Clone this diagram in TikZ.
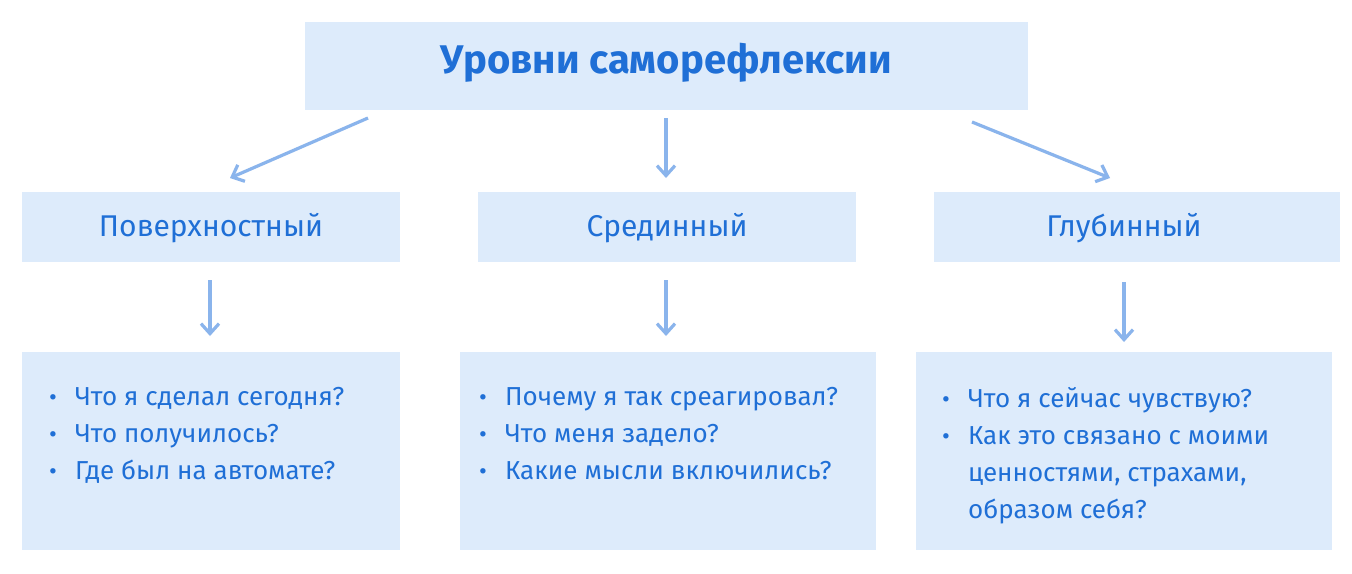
\documentclass[tikz,border=0pt]{standalone}
\usepackage{fontspec}
\setmainfont{Fira Sans}
\usetikzlibrary{arrows.meta}
\definecolor{boxfill}{HTML}{DDEBFB}
\definecolor{txt}{HTML}{1F6FD6}
\definecolor{arr}{HTML}{8AB4EC}
\newcommand{\bl}{\makebox[13pt][l]{\large•}}
\tikzset{
 box/.style={fill=boxfill,draw=none},
 lbl/.style={text=txt,font=\fontsize{15}{18}\selectfont},
 conn/.style={draw=arr,line width=1.6pt,-{Straight Barb[length=5pt,width=9pt]}},
 blist/.style={text=txt,font=\fontsize{13}{18.5}\selectfont,align=left,anchor=north west}
}
\begin{document}
\begin{tikzpicture}[x=0.5pt,y=-0.5pt]
\useasboundingbox (0,0) rectangle (1352,573);
\fill[white] (0,0) rectangle (1352,573);
\fill[box] (305,22) rectangle (1028,110);
\node[text=txt,font=\fontsize{20}{24}\selectfont\bfseries] (t) at (666,63) {Уровни саморефлексии};
\fill[box] (22,192) rectangle (400,262);
\fill[box] (478,192) rectangle (856,262);
\fill[box] (934,192) rectangle (1340,262);
\node[lbl] (a) at (211,228) {Поверхностный};
\node[lbl] (b) at (667,228) {Срединный};
\node[lbl] (c) at (1124,228) {Глубинный};
\fill[box] (22,352) rectangle (400,550);
\fill[box] (460,352) rectangle (876,550);
\fill[box] (916,352) rectangle (1332,550);
\node[blist] (la) at (42,380) {\bl Что я сделал сегодня?\\\bl Что получилось?\\\bl Где был на автомате?};
\node[blist] (lb) at (472,380) {\bl Почему я так среагировал?\\\bl Что меня задело?\\\bl Какие мысли включились?};
\node[blist] (lc) at (935,380) {\bl Что я сейчас чувствую?\\\bl Как это связано с моими\\\hspace*{13pt}ценностями, страхами,\\\hspace*{13pt}образом себя?};
\coordinate (t1) at (368,118); \coordinate (a1) at (230,178);
\coordinate (t2) at (666,118); \coordinate (b1) at (666,178);
\coordinate (t3) at (972,122); \coordinate (c1) at (1110,178);
\draw[conn] (t1) -- (a1);
\draw[conn] (t2) -- (b1);
\draw[conn] (t3) -- (c1);
\coordinate (a2) at (210,280); \coordinate (a3) at (210,336);
\coordinate (b2) at (666,280); \coordinate (b3) at (666,336);
\coordinate (c2) at (1124,282); \coordinate (c3) at (1124,342);
\draw[conn] (a2) -- (a3);
\draw[conn] (b2) -- (b3);
\draw[conn] (c2) -- (c3);
\end{tikzpicture}
\end{document}
